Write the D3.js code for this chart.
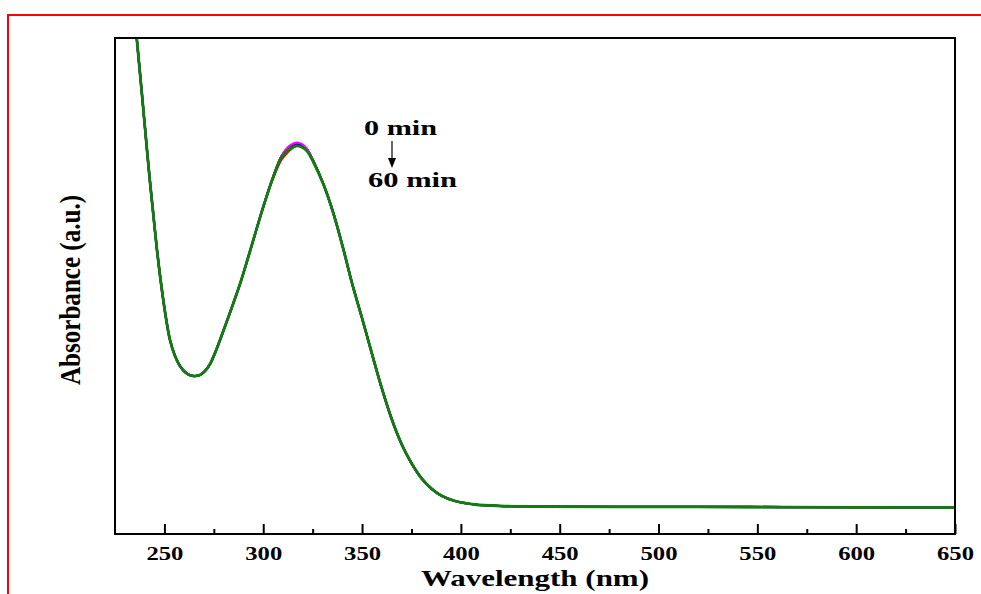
<!DOCTYPE html>
<html><head><meta charset="utf-8">
<script src="https://cdn.jsdelivr.net/npm/d3@7"></script>
<style>html,body{margin:0;padding:0;background:#fff;}svg{display:block;}</style>
</head><body>
<svg id="chart" width="981" height="594"></svg>
<script>
const wavelength = [233.85, 235.98, 238.81, 240.63, 242.51, 244.33, 246.25, 248.27, 250.55, 252.83, 255.36, 257.89, 260.42, 262.95, 265.48, 268.01, 270.54, 273.07, 275.60, 278.13, 281.67, 288.24, 292.44, 296.34, 300.03, 305.09, 309.34, 312.53, 315.06, 317.08, 319.61, 322.14, 325.33, 330.39, 335.45, 340.51, 344.91, 349.97, 355.03, 360.09, 365.15, 370.21, 375.27, 380.33, 385.39, 390.45, 397.03, 407.14, 419.79, 445.09, 495.68, 546.28, 596.87, 650];
const seriesNames = ["0 min", "15 min", "30 min", "45 min", "60 min"];
const seriesColors = ["#000000", "#ff0000", "#0000ff", "#ff00ff", "#0c800c"];
const abs0min  = [2.185, 2.000, 1.758, 1.597, 1.437, 1.293, 1.145, 1.012, 0.883, 0.782, 0.718, 0.677, 0.653, 0.640, 0.637, 0.641, 0.657, 0.685, 0.730, 0.782, 0.859, 1.008, 1.117, 1.222, 1.320, 1.441, 1.524, 1.553, 1.566, 1.571, 1.566, 1.550, 1.504, 1.412, 1.295, 1.150, 1.012, 0.871, 0.726, 0.585, 0.460, 0.359, 0.282, 0.222, 0.181, 0.153, 0.133, 0.119, 0.113, 0.110, 0.1099, 0.1091, 0.1079, 0.1060];
const abs15min = [2.185, 2.000, 1.758, 1.597, 1.435, 1.293, 1.145, 1.012, 0.883, 0.782, 0.718, 0.677, 0.653, 0.640, 0.637, 0.641, 0.657, 0.685, 0.730, 0.782, 0.859, 1.008, 1.117, 1.222, 1.318, 1.436, 1.510, 1.540, 1.558, 1.566, 1.560, 1.546, 1.502, 1.412, 1.294, 1.149, 1.012, 0.871, 0.726, 0.585, 0.460, 0.359, 0.282, 0.222, 0.181, 0.153, 0.133, 0.119, 0.113, 0.110, 0.1095, 0.1092, 0.1078, 0.1060];
const abs30min = [2.185, 2.000, 1.758, 1.597, 1.435, 1.293, 1.145, 1.012, 0.883, 0.782, 0.718, 0.677, 0.653, 0.640, 0.637, 0.641, 0.657, 0.685, 0.730, 0.782, 0.859, 1.008, 1.117, 1.222, 1.320, 1.442, 1.524, 1.556, 1.570, 1.574, 1.568, 1.552, 1.505, 1.413, 1.295, 1.150, 1.012, 0.871, 0.726, 0.585, 0.460, 0.359, 0.282, 0.222, 0.181, 0.153, 0.133, 0.119, 0.113, 0.110, 0.1098, 0.1086, 0.1080, 0.1061];
const abs45min = [2.185, 2.000, 1.758, 1.597, 1.435, 1.293, 1.145, 1.012, 0.883, 0.782, 0.718, 0.677, 0.653, 0.640, 0.637, 0.641, 0.657, 0.685, 0.730, 0.782, 0.859, 1.008, 1.117, 1.222, 1.320, 1.442, 1.526, 1.560, 1.574, 1.578, 1.572, 1.553, 1.503, 1.412, 1.294, 1.149, 1.012, 0.871, 0.726, 0.585, 0.460, 0.359, 0.282, 0.222, 0.181, 0.153, 0.133, 0.119, 0.113, 0.110, 0.1096, 0.1090, 0.1075, 0.1059];
const abs60min = [2.185, 2.000, 1.758, 1.597, 1.435, 1.293, 1.145, 1.012, 0.883, 0.782, 0.718, 0.677, 0.653, 0.640, 0.637, 0.641, 0.657, 0.685, 0.730, 0.782, 0.859, 1.008, 1.117, 1.222, 1.319, 1.440, 1.520, 1.548, 1.560, 1.565, 1.559, 1.544, 1.500, 1.411, 1.294, 1.149, 1.012, 0.871, 0.726, 0.585, 0.460, 0.359, 0.282, 0.222, 0.181, 0.153, 0.133, 0.119, 0.113, 0.110, 0.1097, 0.1089, 0.1077, 0.1060];
const xTicks = [250, 300, 350, 400, 450, 500, 550, 600, 650];
const xMinorTicks = [275, 325, 375, 425, 475, 525, 575, 625];

const allSeries = [abs0min, abs15min, abs30min, abs45min, abs60min];
const svg = d3.select("#chart");
const L = 115, R = 955, T = 38, B = 534;
const x = d3.scaleLinear().domain([225, 650]).range([L, R]);
const y = d3.scaleLinear().domain([0, 2]).range([B, T]);
const serif = "'Liberation Serif','Times New Roman',serif";

// red outer border
svg.append("path").attr("d", "M8,594 L8,15 L981,15").attr("fill", "none").attr("stroke", "#ff0000").attr("stroke-width", 2);

svg.append("defs").append("clipPath").attr("id", "clip")
  .append("rect").attr("x", L).attr("y", T).attr("width", R - L).attr("height", B - T);

const line = d3.line().x((d, i) => x(wavelength[i])).y(d => y(d)).curve(d3.curveCatmullRom.alpha(0.5));
const g = svg.append("g").attr("clip-path", "url(#clip)");
allSeries.forEach((s, k) => {
  g.append("path").datum(s).attr("d", line).attr("fill", "none")
    .attr("stroke", seriesColors[k]).attr("stroke-width", k === 4 ? 2.8 : 2.2)
    .attr("stroke-linejoin", "round");
});

// frame
svg.append("rect").attr("x", L).attr("y", T).attr("width", R - L).attr("height", B - T)
  .attr("fill", "none").attr("stroke", "#000").attr("stroke-width", 2);

// x axis
const ax = svg.append("g").attr("transform", `translate(0,${B})`)
  .call(d3.axisBottom(x).tickValues(xTicks).tickSizeInner(-10).tickSizeOuter(0).tickPadding(16).tickFormat(d3.format("d")));
ax.select(".domain").remove();
ax.selectAll(".tick line").attr("stroke", "#000").attr("stroke-width", 2);
ax.selectAll(".tick text").attr("font-family", serif).attr("font-weight", "bold").attr("font-size", 18)
  .attr("fill", "#000").attr("y", 26).attr("dy", 0)
  .attr("textLength", 37).attr("lengthAdjust", "spacingAndGlyphs");
const axm = svg.append("g").attr("transform", `translate(0,${B})`)
  .call(d3.axisBottom(x).tickValues(xMinorTicks).tickSizeInner(-5).tickSizeOuter(0).tickFormat(""));
axm.select(".domain").remove();
axm.selectAll(".tick line").attr("stroke", "#000").attr("stroke-width", 2);

// axis titles
svg.append("text").attr("x", 535).attr("y", 586).attr("text-anchor", "middle")
  .attr("font-family", serif).attr("font-weight", "bold").attr("font-size", 24)
  .attr("textLength", 228).attr("lengthAdjust", "spacingAndGlyphs").text("Wavelength (nm)");
svg.append("text").attr("transform", "translate(80,290) scale(1.3,1) rotate(-90)")
  .attr("text-anchor", "middle")
  .attr("font-family", serif).attr("font-weight", "bold").attr("font-size", 23)
  .attr("textLength", 190).attr("lengthAdjust", "spacingAndGlyphs").text("Absorbance (a.u.)");

// annotation
svg.append("text").attr("x", 364).attr("y", 135).attr("font-family", serif).attr("font-weight", "bold")
  .attr("font-size", 20).attr("textLength", 73).attr("lengthAdjust", "spacingAndGlyphs").text(seriesNames[0]);
svg.append("text").attr("x", 368).attr("y", 187).attr("font-family", serif).attr("font-weight", "bold")
  .attr("font-size", 20).attr("textLength", 89).attr("lengthAdjust", "spacingAndGlyphs").text(seriesNames[4]);
svg.append("line").attr("x1", 392).attr("y1", 141).attr("x2", 392).attr("y2", 160).attr("stroke", "#000").attr("stroke-width", 1.2);
svg.append("path").attr("d", "M388,158 L396,158 L392,168 Z").attr("fill", "#000");
</script>
</body></html>
